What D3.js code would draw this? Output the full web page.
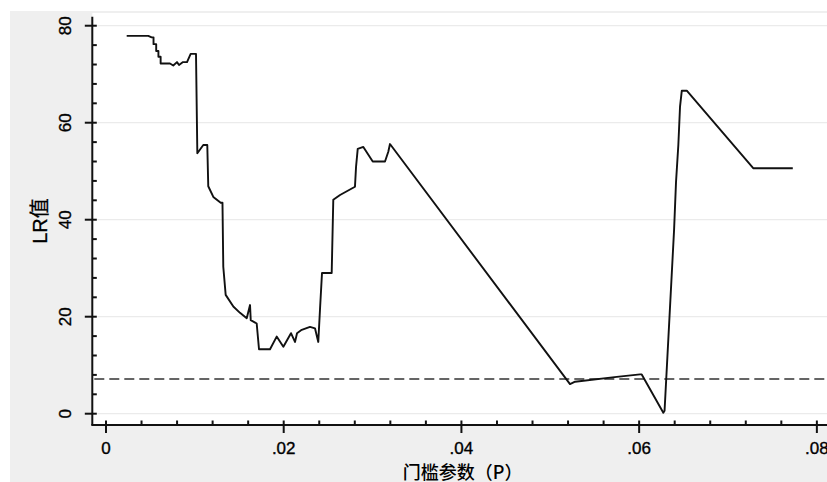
<!DOCTYPE html>
<html><head><meta charset="utf-8">
<script src="https://cdn.jsdelivr.net/npm/d3@7/dist/d3.min.js"></script>
<style>html,body{margin:0;padding:0;background:#fff;overflow:hidden}svg{display:block}</style>
</head><body>
<script>
// threshold parameter P (x) and LR statistic (y)
const pValues = [0.00233,0.00476,0.00514,0.00535,0.00535,0.00565,0.00565,0.0059,0.0059,0.00615,0.00615,0.0072,0.00757,0.00799,0.00822,0.00867,0.00912,0.00953,0.01013,
  0.01028,0.01095,0.0114,0.01151,0.01208,0.01291,0.01311,0.0132,0.01347,0.01433,0.01508,0.01584,0.01621,0.01629,0.01696,
  0.01722,0.01846,0.01921,0.01996,0.02082,0.02127,0.0215,0.02203,0.02296,0.02352,0.02389,0.02409,0.02431,0.0254,0.02558,
  0.02634,0.02802,0.02814,0.02833,0.02896,0.03002,0.0314,0.03177,0.03196,0.05222,0.05279,0.05748,0.0601,0.06029,0.06272,
  0.06286,0.06393,0.06415,0.06441,0.0646,0.0648,0.06536,0.07286,0.07729];
const lrValues = [77.9,77.9,77.6,77.6,76.2,76.2,74.8,74.8,73.6,73.6,72.2,72.2,71.8,72.5,71.9,72.5,72.5,74.2,74.2,
  53.7,55.4,55.4,46.9,44.7,43.5,43.5,30.3,24.5,22.1,20.8,19.7,22.4,19.3,18.6,
  13.3,13.3,15.9,13.8,16.6,14.8,16.6,17.3,17.9,17.6,14.8,21.7,29.0,29.0,44.1,
  45.1,46.8,50.9,54.6,55.0,52.0,52.0,54.0,55.6,6.1,6.6,7.6,8.1,8.1,0.2,
  0.6,37.9,47.8,55.4,63.3,66.6,66.6,50.6,50.6];
const criticalValue = 7.15;
const xMajorTicks = [0,0.02,0.04,0.06,0.08];
const xTickLabels = ["0",".02",".04",".06",".08"];
const yMajorTicks = [0,20,40,60,80];
const yTickLabels = ["0","20","40","60","80"];
const xMinorTicks = d3.range(1,21).map(i=>+(i*0.004).toFixed(3)).filter(v=>!xMajorTicks.includes(v));
const yMinorTicks = d3.range(1,20).map(i=>i*4).filter(v=>!yMajorTicks.includes(v));
const xTitle = "门槛参数（P）";
const yTitle = "LR值";

const W=827,H=482;
const svg=d3.select("body").append("svg").attr("width",W).attr("height",H);
const pL=92.3,pR=827,pT=16.7,pB=425;
const x=d3.scaleLinear().domain([-0.00154,0.08114]).range([pL,pR]);
const y=d3.scaleLinear().domain([-2.33,81.86]).range([pB,pT]);

svg.append("rect").attr("x",10).attr("y",11).attr("width",W-10).attr("height",H-11).attr("fill","#efefef");
svg.append("rect").attr("x",pL).attr("y",13).attr("width",pR-pL).attr("height",pB-13).attr("fill","#fff");

// gridlines
svg.append("g").selectAll("line").data(yMajorTicks).join("line")
  .attr("x1",pL+5).attr("x2",pR).attr("y1",d=>y(d)).attr("y2",d=>y(d))
  .attr("stroke","#ebebeb").attr("stroke-width",1.2);

// critical value dashed line
svg.append("line").attr("x1",pL+2).attr("x2",pR).attr("y1",y(criticalValue)).attr("y2",y(criticalValue))
  .attr("stroke","#333").attr("stroke-width",1.7).attr("stroke-dasharray","10,5");

// LR line
const pts=pValues.map((p,i)=>[p,lrValues[i]]);
svg.append("path").datum(pts)
  .attr("d",d3.line().x(d=>x(d[0])).y(d=>y(d[1])))
  .attr("fill","none").attr("stroke","#111").attr("stroke-width",1.9).attr("stroke-linejoin","round");

const font='"Liberation Sans", Arial, "Noto Sans CJK SC", sans-serif';

// Y axis
const yAxis=svg.append("g").attr("transform",`translate(${pL},0)`)
  .call(d3.axisLeft(y).tickValues(yMajorTicks).tickSize(0).tickFormat(""));
yAxis.select(".domain").attr("stroke","#111").attr("stroke-width",2).attr("d",`M0,${pT}V${pB}`);
yAxis.selectAll(".tick").remove();
yAxis.selectAll(".maj").data(yMajorTicks).join("line").attr("class","maj")
  .attr("x1",-7.5).attr("x2",4.5).attr("y1",d=>y(d)).attr("y2",d=>y(d)).attr("stroke","#111").attr("stroke-width",2);
yAxis.selectAll(".min").data(yMinorTicks).join("line").attr("class","min")
  .attr("x1",0).attr("x2",4.5).attr("y1",d=>y(d)).attr("y2",d=>y(d)).attr("stroke","#111").attr("stroke-width",2);
svg.append("g").selectAll("text").data(yMajorTicks).join("text")
  .attr("transform",d=>`translate(${65.5},${y(d)}) rotate(-90)`)
  .attr("text-anchor","middle").attr("dominant-baseline","central")
  .attr("font-family",font).attr("font-size",17).attr("fill","#000")
  .attr("stroke","#000").attr("stroke-width",0.35)
  .text((d,i)=>yTickLabels[i]);

// X axis
const xAxis=svg.append("g").attr("transform",`translate(0,${pB})`)
  .call(d3.axisBottom(x).tickValues(xMajorTicks).tickSize(0).tickFormat(""));
xAxis.select(".domain").attr("stroke","#111").attr("stroke-width",2).attr("d",`M${pL-1},0H${pR}`);
xAxis.selectAll(".tick").remove();
xAxis.selectAll(".maj").data(xMajorTicks).join("line").attr("class","maj")
  .attr("y1",-4.5).attr("y2",8).attr("x1",d=>x(d)).attr("x2",d=>x(d)).attr("stroke","#111").attr("stroke-width",2);
xAxis.selectAll(".min").data(xMinorTicks).join("line").attr("class","min")
  .attr("y1",-4.5).attr("y2",0).attr("x1",d=>x(d)).attr("x2",d=>x(d)).attr("stroke","#111").attr("stroke-width",2);
svg.append("g").selectAll("text").data(xMajorTicks).join("text")
  .attr("x",d=>x(d)).attr("y",453.5).attr("text-anchor","middle")
  .attr("font-family",font).attr("font-size",17).attr("fill","#000")
  .attr("stroke","#000").attr("stroke-width",0.35)
  .text((d,i)=>xTickLabels[i]);

// titles
svg.append("text").attr("x",(pL+pR)/2+3).attr("y",470.5).attr("text-anchor","middle")
  .attr("dominant-baseline","central")
  .attr("font-family",'"Noto Sans CJK SC", sans-serif').attr("font-size",18).attr("font-weight",500).attr("fill","#000")
  .text(xTitle);
svg.append("text").attr("transform",`translate(40,221) rotate(-90)`).attr("text-anchor","middle")
  .attr("dominant-baseline","central")
  .attr("font-family",font).attr("font-size",20).attr("fill","#000")
  .attr("stroke","#000").attr("stroke-width",0.3)
  .text(yTitle);
</script>
</body></html>
